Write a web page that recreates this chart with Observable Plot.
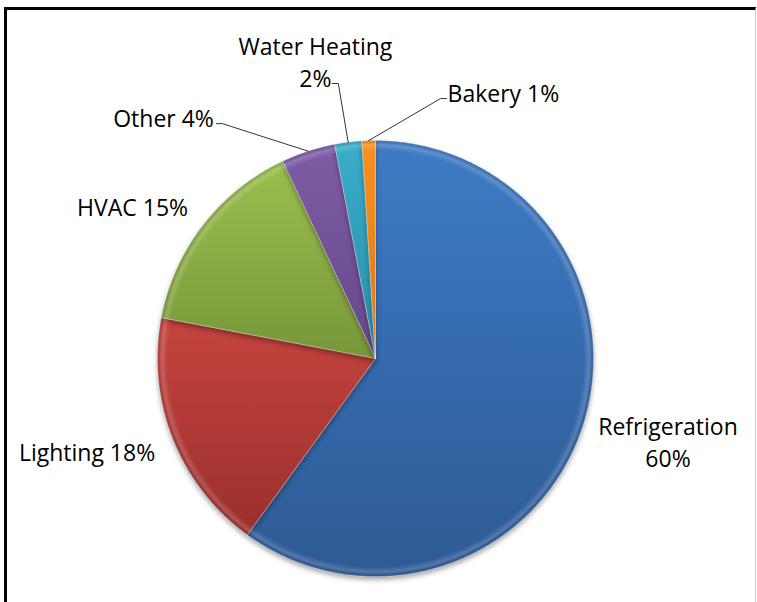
<!DOCTYPE html>
<html>
<head>
<meta charset="utf-8">
<script src="https://cdn.jsdelivr.net/npm/d3@7"></script>
<script src="https://cdn.jsdelivr.net/npm/@observablehq/plot@0.6"></script>
<style>
  html, body { margin: 0; padding: 0; background: #fff; overflow: hidden; }
  #wrap { position: relative; width: 757px; height: 602px; overflow: hidden; }
  #frame { position: absolute; left: 4px; top: 7px; width: 752px; height: 640px;
           box-sizing: border-box; border-left: 3px solid #000; border-top: 3px solid #000;
           border-right: 1px solid #c8c8c8; }
  #chart { position: absolute; left: 0; top: 0; }
  #chart svg text { font-family: "Open Sans", Lato, sans-serif; }
</style>
</head>
<body>
<div id="wrap"><div id="frame"></div><div id="chart"></div></div>
<script>
// ---- data ----
const categories = ["Refrigeration", "Lighting", "HVAC", "Other", "Water Heating", "Bakery"];
const values = [60, 18, 15, 4, 2, 1];
const labels = ["Refrigeration\n60%", "Lighting 18%", "HVAC 15%", "Other 4%", "Water Heating\n2%", "Bakery 1%"];

// ---- styles ----
const colorTop = ["#3e7bc6", "#c6443f", "#9bbf4c", "#7e5ca6", "#38aecb", "#f7921f"];
const colorBottom = ["#2d5a94", "#9a2f2c", "#77973a", "#66488a", "#2a8cab", "#dc7718"];

// ---- layout (pie geometry and label placement) ----
const W = 757, H = 602, CX = 375, CY = 358, R = 218;
// label centre in polar form: angle clockwise from 12 o'clock (deg), distance in radii
const labelPolar = [[105.75, 1.394], [252.3, 1.389], [302.2, 1.317], [318.8, 1.476], [348.6, 1.394], [25.6, 1.358]];
// leader elbow in polar form + short horizontal tick direction (null = no leader)
const leaderElbow = [null, null, null, [326.9, 1.286, -1], [352.3, 1.273, -1], [14.04, 1.229, 1]];
const tick = 6 / R;

const rad = d => d * Math.PI / 180;
const polar = (deg, r) => ({x: r * Math.sin(rad(deg)), y: r * Math.cos(rad(deg))});

const total = d3.sum(values);
let acc = 0;
const slices = categories.map((c, i) => {
  const a0 = acc / total * 360; acc += values[i]; const a1 = acc / total * 360;
  return {i, category: c, value: values[i], a0, a1, mid: (a0 + a1) / 2};
});

// polygon outline of each slice (centre + arc)
const slicePts = slices.map(s => {
  const pts = [{x: 0, y: 0}];
  const n = Math.max(4, Math.ceil((s.a1 - s.a0) * 2));
  for (let k = 0; k <= n; ++k) pts.push(polar(s.a0 + (s.a1 - s.a0) * k / n, 1));
  pts.push({x: 0, y: 0});
  return pts;
});
const rimPts = d3.range(0, 721).map(k => polar(k / 2, 1));

const labelData = slices.map(s => ({...polar(...labelPolar[s.i]), text: labels[s.i]}));
const leaderData = [];
slices.forEach(s => {
  const e = leaderElbow[s.i];
  if (!e) return;
  const p0 = polar(s.mid, 1.0), p1 = polar(e[0], e[1]);
  leaderData.push({k: s.i, ...p0}, {k: s.i, ...p1}, {k: s.i, x: p1.x + e[2] * tick, y: p1.y});
});

const plot = Plot.plot({
  width: W, height: H,
  margin: 0,
  x: {domain: [-1, 1], range: [CX - R, CX + R], axis: null},
  y: {domain: [1, -1], range: [CY - R, CY + R], axis: null},
  marks: [
    ...slicePts.map((pts, i) => Plot.line(pts, {
      x: "x", y: "y", curve: "linear", fill: `url(#grad${i})`,
      stroke: "rgba(255,255,255,0.35)", strokeWidth: 1, strokeLinejoin: "round"
    })),
    Plot.line(rimPts, {x: "x", y: "y", fill: "url(#rim)", stroke: "none"}),
    Plot.line(leaderData, {x: "x", y: "y", z: "k", stroke: "#000", strokeWidth: 0.8, curve: "linear"}),
    Plot.text(labelData, {x: "x", y: "y", text: "text", fontSize: 23, lineHeight: 1.39,
      fill: "#000", textAnchor: "middle", lineAnchor: "middle"})
  ]
});

// gradients and shadow
const svg = d3.select(plot);
svg.style("background", "transparent").style("overflow", "visible");
const defs = svg.insert("defs", ":first-child");
colorTop.forEach((c, i) => {
  const g = defs.append("linearGradient").attr("id", `grad${i}`)
    .attr("x1", 0).attr("y1", 0).attr("x2", 0).attr("y2", 1);
  g.append("stop").attr("offset", "0%").attr("stop-color", c);
  g.append("stop").attr("offset", "100%").attr("stop-color", colorBottom[i]);
});
const rg = defs.append("radialGradient").attr("id", "rim").attr("cx", "50%").attr("cy", "50%").attr("r", "50%");
rg.append("stop").attr("offset", "0%").attr("stop-color", "#fff").attr("stop-opacity", 0);
rg.append("stop").attr("offset", "95.5%").attr("stop-color", "#fff").attr("stop-opacity", 0);
rg.append("stop").attr("offset", "98%").attr("stop-color", "#fff").attr("stop-opacity", 0.18);
rg.append("stop").attr("offset", "100%").attr("stop-color", "#000").attr("stop-opacity", 0.12);
svg.selectAll('g[aria-label="line"]').filter((d, i) => i < slicePts.length)
  .style("filter", "drop-shadow(0px 3px 2.5px rgba(0,0,0,0.35))");

document.getElementById("chart").appendChild(plot);
</script>
</body>
</html>
